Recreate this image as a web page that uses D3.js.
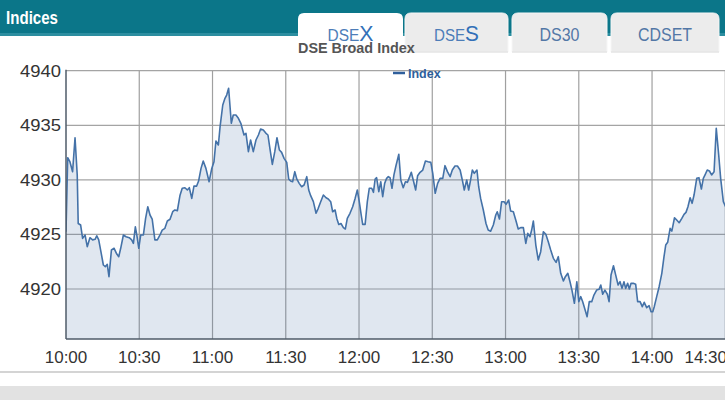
<!DOCTYPE html>
<html>
<head>
<meta charset="utf-8">
<script src="https://cdn.jsdelivr.net/npm/d3@7"></script>
<style>
  html, body { margin: 0; padding: 0; background: #fff; }
  svg { display: block; }
</style>
</head>
<body>
<svg id="chart" width="725" height="400"></svg>
<script>
// ---- data (minutes after 10:00, DSEX index value) ----
const minutes = [0,0.7,1.6,2.7,3.7,4.6,5.0,6.0,6.8,7.8,8.7,9.8,10.9,11.9,12.6,13.4,14.3,15.3,16.1,16.9,17.6,18.6,19.7,20.8,21.6,22.4,23.5,24.6,25.9,26.9,27.6,28.4,29.0,29.8,30.6,31.7,32.6,33.5,34.4,35.3,36.4,37.4,38.5,39.4,40.5,41.5,42.6,43.7,44.6,45.6,46.7,47.6,48.7,49.7,50.5,51.5,52.4,53.5,54.3,55.3,56.2,57.3,58.6,59.7,60.6,61.4,62.4,63.1,64.2,65.1,65.8,66.6,67.7,68.5,69.6,70.6,71.6,72.9,73.7,74.7,75.6,76.7,77.8,78.8,79.7,80.8,81.9,82.7,83.5,84.5,85.5,86.4,87.4,88.3,89.3,90.4,91.2,92.0,92.8,93.7,94.5,95.5,96.5,97.5,98.6,99.4,100.2,101.3,102.4,103.3,104.3,105.4,106.5,107.4,108.4,109.2,110.2,110.9,111.7,112.6,113.6,114.4,115.2,116.3,117.4,118.4,119.3,120.1,120.9,121.5,122.5,123.4,124.2,125.2,125.9,126.6,127.2,128.1,128.9,129.7,130.5,131.3,132.0,132.7,133.5,134.3,135.2,136.3,137.1,138.1,139.0,139.8,140.6,141.4,142.2,143.2,144.0,145.0,146.1,147.2,148.3,149.4,150.2,151.2,152.2,153.2,154.3,155.2,156.2,157.3,158.2,159.3,160.3,161.4,162.3,163.1,164.1,164.9,165.7,166.4,167.2,168.3,169.0,169.8,170.9,172.0,172.9,173.9,175.0,176.0,176.6,177.5,178.4,179.4,180.2,181.3,182.1,183.2,184.3,185.2,186.2,187.3,188.3,189.1,190.0,190.7,191.4,192.4,193.4,194.4,195.5,196.5,197.5,198.5,199.6,200.7,201.6,202.6,203.7,204.5,205.5,206.4,207.2,208.2,209.2,210.0,210.8,211.6,212.6,213.4,214.3,215.3,216.2,217.3,218.3,219.0,219.8,220.7,221.7,222.4,223.2,224.2,225.1,226.1,226.9,227.7,228.5,229.2,230.0,230.7,231.4,232.3,233.3,234.1,235.1,236.0,236.8,237.8,238.8,239.6,240.3,240.9,241.9,242.9,244.0,244.9,245.6,246.4,247.4,248.1,249.2,250.1,251.1,252.2,253.1,253.9,254.7,255.6,256.4,257.2,258.3,259.2,260.2,261.0,261.8,262.6,263.5,264.4,265.4,266.3,267.3,268.1,269.2,270.2];
const indexValues = [4925.25,4932.03,4931.66,4930.75,4933.86,4930.44,4926.0,4925.86,4924.64,4924.95,4923.88,4924.7,4924.5,4924.55,4924.88,4924.5,4923.42,4922.2,4922.04,4922.26,4921.13,4923.57,4923.73,4923.2,4922.96,4923.73,4924.95,4924.79,4924.7,4924.5,4924.18,4925.7,4924.95,4923.73,4924.95,4924.95,4926.47,4927.54,4926.78,4926.41,4924.5,4924.5,4924.95,4925.4,4925.56,4926.23,4926.39,4927.08,4927.24,4927.17,4928.6,4929.23,4929.28,4929.07,4929.28,4928.3,4929.43,4929.43,4929.89,4931.05,4931.73,4931.05,4929.83,4931.05,4931.66,4933.56,4933.19,4934.87,4936.86,4937.47,4937.77,4938.39,4935.18,4935.94,4935.94,4935.64,4935.18,4934.11,4934.26,4932.58,4933.65,4932.58,4933.65,4934.11,4934.66,4934.57,4934.26,4934.11,4932.89,4931.42,4932.58,4933.86,4932.73,4932.52,4931.97,4931.6,4930.08,4929.89,4929.83,4930.75,4930.08,4929.68,4929.37,4929.53,4930.29,4929.07,4928.55,4928.0,4926.94,4927.39,4928.0,4928.61,4928.36,4928.25,4928.0,4927.08,4927.24,4926.47,4925.92,4926.0,4925.62,4925.5,4926.47,4926.94,4927.54,4928.3,4929.07,4928.0,4926.78,4925.92,4925.92,4928.0,4929.23,4929.23,4928.86,4930.08,4930.2,4928.92,4929.83,4928.46,4929.68,4930.14,4930.29,4930.2,4929.23,4930.45,4931.36,4932.34,4929.99,4929.28,4929.83,4929.77,4930.2,4930.69,4929.99,4929.07,4930.38,4930.69,4930.9,4931.73,4931.66,4931.6,4930.6,4928.77,4929.68,4930.14,4930.14,4931.3,4930.75,4930.29,4930.9,4931.27,4931.27,4930.9,4929.99,4929.07,4929.99,4929.07,4929.99,4930.9,4930.6,4930.9,4929.37,4928.3,4927.24,4926.0,4925.4,4925.3,4925.86,4926.78,4927.08,4926.41,4928.0,4928.0,4927.76,4928.15,4927.14,4927.08,4926.23,4925.5,4925.62,4925.62,4924.18,4925.1,4924.79,4925.4,4926.23,4924.03,4922.66,4923.42,4925.25,4925.01,4924.33,4923.57,4922.81,4922.44,4922.96,4921.44,4920.73,4921.13,4921.44,4920.67,4919.9,4918.69,4920.67,4918.84,4919.3,4918.84,4918.08,4917.46,4918.84,4918.84,4919.45,4919.9,4919.97,4920.37,4919.52,4919.9,4919.52,4918.84,4921.29,4922.13,4921.29,4920.37,4920.67,4920.06,4920.67,4920.06,4920.52,4920.0,4920.52,4920.52,4920.43,4918.84,4918.84,4918.38,4918.78,4918.29,4918.47,4917.92,4917.92,4918.38,4919.3,4920.21,4921.44,4922.96,4924.03,4924.28,4925.56,4925.31,4926.53,4926.32,4926.07,4926.47,4926.84,4927.02,4927.54,4928.36,4927.85,4928.61,4930.14,4930.2,4929.16,4930.14,4930.51,4930.9,4930.81,4930.45,4930.75,4934.72,4932.28,4930.14,4928.0,4927.5];
const xTickMinutes = [0,30,60,90,120,150,180,210,240,270];
const xTickLabels = ["10:00","10:30","11:00","11:30","12:00","12:30","13:00","13:30","14:00","14:30"];
const yTickValues = [4920,4925,4930,4935,4940];
const tabNames = [["DSE","X"],["DSE","S"],["DS30",""],["CDSET",""]];
const chartTitle = "DSE Broad Index";
const seriesName = "Index";
const panelTitle = "Indices";

// ---- layout ----
const W = 725, H = 400;
const plot = {left: 66, right: 725.3, top: 70.7, bottom: 339};
const svg = d3.select("#chart");
const FONT = "'Liberation Sans',Arial,sans-serif";

const x = d3.scaleLinear().domain([0, 270]).range([plot.left, plot.right]);
const y = d3.scaleLinear().domain([4915.42, 4940]).range([plot.bottom, plot.top]);

// header bar
svg.append("rect").attr("x",0).attr("y",0).attr("width",W).attr("height",36).attr("fill","#0b7689");
svg.append("rect").attr("x",0).attr("y",33).attr("width",W).attr("height",3).attr("fill","#2c8ea0");
svg.append("text").attr("x",6).attr("y",24).text(panelTitle)
  .attr("fill","#fff").attr("font-family",FONT)
  .attr("font-weight","bold").attr("font-size",18)
  .attr("textLength",52).attr("lengthAdjust","spacingAndGlyphs");

// tabs
const tabs = [
  {x0:298, x1:403, active:true, w:46},
  {x0:405, x1:508, active:false, w:45},
  {x0:512, x1:607, active:false, w:40},
  {x0:611, x1:719, active:false, w:54}
];
function tabPath(t, bottom){
  const r = 6;
  return `M${t.x0},${bottom} L${t.x0},${13+r} Q${t.x0},13 ${t.x0+r},13 L${t.x1-r},13 Q${t.x1},13 ${t.x1},${13+r} L${t.x1},${bottom} Z`;
}
tabs.forEach((t,i)=>{
  svg.append("path").attr("d", tabPath(t, t.active ? 60 : 52))
    .attr("fill", t.active ? "#ffffff" : "#ececec")
    .attr("stroke", t.active ? "none" : "#f6f6f6").attr("stroke-width",1);
  if (!t.active) {
    svg.append("line").attr("x1",t.x0).attr("x2",t.x1).attr("y1",52).attr("y2",52)
      .attr("stroke","#dcdcdc").attr("stroke-width",1);
  }
  const cx = (t.x0 + t.x1)/2;
  const [a,b] = tabNames[i];
  const txt = svg.append("text").attr("x",cx).attr("y",41).attr("text-anchor","middle")
    .attr("font-family", FONT);
  if (b) {
    txt.append("tspan").text(a).attr("font-size",16).attr("fill","#4d7db8");
    txt.append("tspan").text(b).attr("font-size",22).attr("fill","#3270b8");
    txt.attr("textLength", t.w).attr("lengthAdjust","spacingAndGlyphs");
  } else {
    txt.text(a).attr("font-size",19).attr("fill","#5277a6")
      .attr("textLength", t.w).attr("lengthAdjust","spacingAndGlyphs");
  }
});

// grid
const grid = svg.append("g");
grid.selectAll("line.h").data(yTickValues).join("line")
  .attr("x1",plot.left).attr("x2",W).attr("y1",d=>y(d)).attr("y2",d=>y(d))
  .attr("stroke","#a4a4a4").attr("stroke-width",1.2);
grid.selectAll("line.v").data(xTickMinutes.slice(1)).join("line")
  .attr("x1",d=>x(d)).attr("x2",d=>x(d)).attr("y1",plot.top).attr("y2",plot.bottom)
  .attr("stroke","#a0a0a0").attr("stroke-width",1.2);

// clip
svg.append("clipPath").attr("id","clip").append("rect")
  .attr("x",plot.left).attr("y",plot.top-10).attr("width",W-plot.left).attr("height",plot.bottom-plot.top+10);

const data = minutes.map((m,i)=>({m, v:indexValues[i]}));
const area = d3.area().x(d=>x(d.m)).y0(plot.bottom).y1(d=>y(d.v));
const line = d3.line().x(d=>x(d.m)).y(d=>y(d.v));
const g = svg.append("g").attr("clip-path","url(#clip)");
g.append("path").datum(data).attr("d",area).attr("fill","#4572a7").attr("fill-opacity",0.17);
g.append("path").datum(data).attr("d",line).attr("fill","none").attr("stroke","#4472a8").attr("stroke-width",1.6).attr("stroke-linejoin","round");

// axis lines
svg.append("line").attr("x1",plot.left).attr("x2",plot.left).attr("y1",plot.top-1).attr("y2",plot.bottom)
  .attr("stroke","#4f5b68").attr("stroke-width",1.5);
svg.append("line").attr("x1",plot.left).attr("x2",W).attr("y1",plot.bottom).attr("y2",plot.bottom)
  .attr("stroke","#4f5b68").attr("stroke-width",1.5);

// y labels
svg.selectAll("text.yl").data(yTickValues).join("text").attr("class","yl")
  .attr("x",61).attr("y",d=>y(d)+6).attr("text-anchor","end")
  .attr("font-family",FONT).attr("font-size",17).attr("fill","#333")
  .attr("textLength",41).attr("lengthAdjust","spacingAndGlyphs")
  .text(d=>d);

// x labels
svg.selectAll("text.xl").data(xTickMinutes).join("text").attr("class","xl")
  .attr("x",(d,i)=> x(d) > W-20 ? W+2 : x(d))
  .attr("text-anchor",(d,i)=> x(d) > W-20 ? "end" : "middle")
  .attr("y",363)
  .attr("font-family",FONT).attr("font-size",17).attr("fill","#333")
  .text((d,i)=>xTickLabels[i]);

// title (drawn over tabs)
svg.append("text").attr("x",298).attr("y",53).text(chartTitle)
  .attr("font-family",FONT).attr("font-weight","bold")
  .attr("font-size",14.4).attr("fill","#555");

// legend
svg.append("line").attr("x1",393).attr("x2",405).attr("y1",73).attr("y2",73)
  .attr("stroke","#2f5f9c").attr("stroke-width",2.5);
svg.append("text").attr("x",408).attr("y",78).text(seriesName)
  .attr("font-family",FONT).attr("font-weight","bold")
  .attr("font-size",12.5).attr("fill","#2f5f9c");

// bottom separators
svg.append("rect").attr("x",0).attr("y",371).attr("width",W).attr("height",2).attr("fill","#d4d4d4");
svg.append("rect").attr("x",0).attr("y",386).attr("width",W).attr("height",14).attr("fill","#e2e2e2");
</script>
</body>
</html>
